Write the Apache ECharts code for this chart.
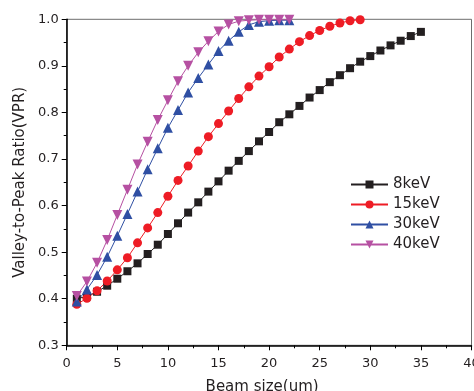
<!DOCTYPE html>
<html>
<head>
<meta charset="utf-8">
<script src="https://cdn.jsdelivr.net/npm/echarts@6/dist/echarts.min.js"></script>
<style>html,body{margin:0;padding:0;background:#fff}#c{width:474px;height:391px}</style>
</head>
<body>
<div id="c"></div>
<script>
const seriesNames = ['8keV', '15keV', '30keV', '40keV'];
const x8 = [1,2,3,4,5,6,7,8,9,10,11,12,13,14,15,16,17,18,19,20,21,22,23,24,25,26,27,28,29,30,31,32,33,34,35];
const y8 = [0.400,0.405,0.415,0.428,0.443,0.459,0.476,0.496,0.516,0.539,0.562,0.585,0.607,0.630,0.652,0.675,0.696,0.717,0.738,0.758,0.779,0.796,0.814,0.832,0.848,0.865,0.880,0.895,0.909,0.921,0.933,0.944,0.954,0.964,0.973];
const x15 = [1,2,3,4,5,6,7,8,9,10,11,12,13,14,15,16,17,18,19,20,21,22,23,24,25,26,27,28,29];
const y15 = [0.388,0.401,0.417,0.438,0.462,0.488,0.520,0.552,0.585,0.620,0.654,0.685,0.717,0.748,0.776,0.803,0.830,0.855,0.878,0.898,0.919,0.936,0.952,0.965,0.976,0.985,0.992,0.997,0.999];
const x30 = [1,2,3,4,5,6,7,8,9,10,11,12,13,14,15,16,17,18,19,20,21,22];
const y30 = [0.394,0.420,0.451,0.490,0.535,0.582,0.630,0.678,0.723,0.767,0.805,0.843,0.874,0.903,0.932,0.954,0.973,0.988,0.995,0.997,0.998,0.998];
const x40 = [1,2,3,4,5,6,7,8,9,10,11,12,13,14,15,16,17,18,19,20,21,22];
const y40 = [0.406,0.437,0.477,0.526,0.580,0.634,0.688,0.737,0.784,0.826,0.867,0.900,0.929,0.953,0.974,0.989,0.996,0.998,0.999,0.999,0.999,0.999];
const xTicks = [0, 40, 5];
const yTicks = [0.3, 1.0, 0.1];

const pair = (xs, ys) => xs.map((x, i) => [x, ys[i]]);
const FONT = 'DejaVu Sans';
const TXT = '#231f20';

const chart = echarts.init(document.getElementById('c'), null, {renderer: 'canvas'});
function mk(name, xs, ys, color, symbol, size, rot) {
  return {
    name: name, type: 'line', data: pair(xs, ys),
    symbol: symbol, symbolSize: size, symbolRotate: rot || 0,
    showSymbol: true, clip: false, animation: false,
    lineStyle: {color: color, width: 1},
    itemStyle: {color: color, borderWidth: 0}
  };
}
chart.setOption({
  animation: false,
  backgroundColor: '#fff',
  grid: {left: 66.7, right: 2.5, top: 19.3, bottom: 45.7, show: true, borderColor: '#6d6d6d', borderWidth: 1, containLabel: false, outerBoundsMode: 'none'},
  legend: {
    orient: 'vertical', left: 350, top: 177, padding: 0,
    itemWidth: 37, itemHeight: 10, itemGap: 5,
    textStyle: {fontFamily: FONT, fontSize: 15, color: TXT},
    data: seriesNames
  },
  xAxis: {
    type: 'value', min: xTicks[0], max: xTicks[1], interval: xTicks[2],
    name: 'Beam size(um)', nameLocation: 'middle', nameGap: 34,
    nameTextStyle: {fontFamily: FONT, fontSize: 15, color: TXT, padding: [0, 14, 0, 0]},
    axisLine: {lineStyle: {color: '#000', width: 1.5}},
    axisTick: {inside: false, length: 5, lineStyle: {color: '#000', width: 1}},
    minorTick: {show: true, splitNumber: 2, length: 3, lineStyle: {color: '#000', width: 1}},
    axisLabel: {fontFamily: FONT, fontSize: 13, color: TXT, margin: 12},
    splitLine: {show: false}
  },
  yAxis: {
    type: 'value', min: yTicks[0], max: yTicks[1], interval: yTicks[2],
    name: 'Valley-to-Peak Ratio(VPR)', nameLocation: 'middle', nameGap: 33,
    nameTextStyle: {fontFamily: FONT, fontSize: 15, color: TXT},
    axisLine: {lineStyle: {color: '#000', width: 1.5}},
    axisTick: {inside: false, length: 5, lineStyle: {color: '#000', width: 1}},
    minorTick: {show: true, splitNumber: 2, length: 3, lineStyle: {color: '#000', width: 1}},
    axisLabel: {fontFamily: FONT, fontSize: 13, color: TXT, margin: 8, formatter: v => v.toFixed(1)},
    splitLine: {show: false}
  },
  series: [
    mk(seriesNames[0], x8, y8, '#231f20', 'rect', 8),
    mk(seriesNames[1], x15, y15, '#ee1c25', 'circle', 9),
    mk(seriesNames[2], x30, y30, '#2f4fa3', 'triangle', 10),
    mk(seriesNames[3], x40, y40, '#b650a2', 'triangle', 10, 180)
  ]
});
</script>
</body>
</html>
